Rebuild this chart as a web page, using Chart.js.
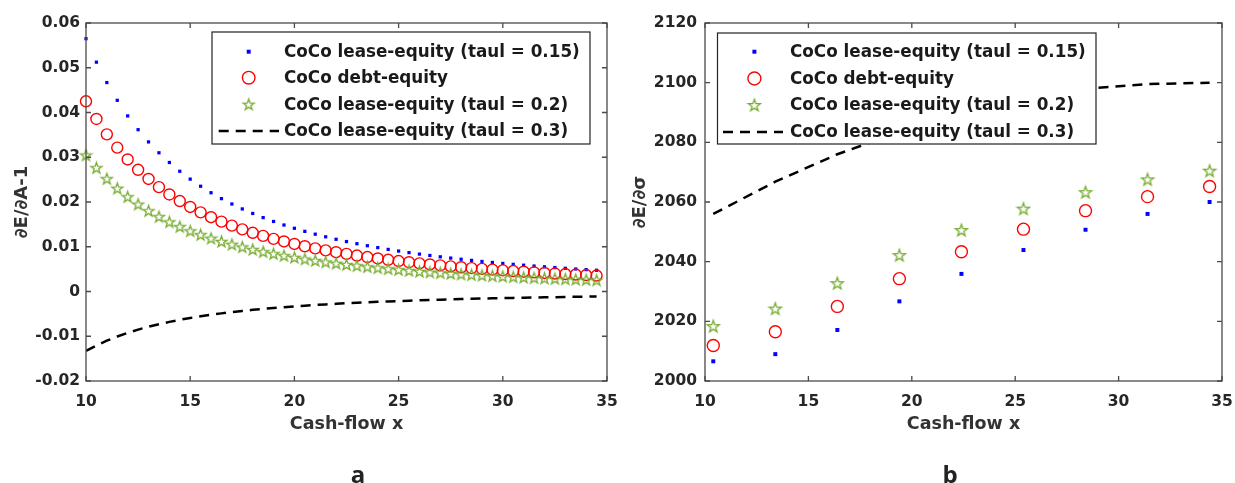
<!DOCTYPE html>
<html>
<head>
<meta charset="utf-8">
<script src="https://cdn.jsdelivr.net/npm/chart.js@4.4.0/dist/chart.umd.min.js"></script>
<style>
  body { margin: 0; background: #fff; width: 1235px; height: 483px; position: relative; overflow: hidden; }
  .panel { position: absolute; top: 0; height: 483px; }
  .tag { position: absolute; font: 700 24px 'Open Sans', sans-serif; color: #222; transform: translate(-50%, -50%); }
</style>
</head>
<body>
<div class="panel" style="left:0;width:617px"><canvas id="chartA" width="617" height="483"></canvas></div>
<div class="panel" style="left:617px;width:618px"><canvas id="chartB" width="618" height="483"></canvas></div>
<div class="tag" style="left:358px;top:473px">a</div>
<div class="tag" style="left:950px;top:473px">b</div>
<script>
// Series names (same in both panels)
const seriesNames = [
  "CoCo lease-equity (taul = 0.15)",
  "CoCo debt-equity",
  "CoCo lease-equity (taul = 0.2)",
  "CoCo lease-equity (taul = 0.3)"
];

// Panel a: dE/dA-1 vs cash-flow
const cashA = [10, 10.5, 11, 11.5, 12, 12.5, 13, 13.5, 14, 14.5, 15, 15.5, 16, 16.5, 17, 17.5, 18, 18.5, 19, 19.5,
  20, 20.5, 21, 21.5, 22, 22.5, 23, 23.5, 24, 24.5, 25, 25.5, 26, 26.5, 27, 27.5, 28, 28.5, 29, 29.5,
  30, 30.5, 31, 31.5, 32, 32.5, 33, 33.5, 34, 34.5];
const leaseA15 = [0.05650, 0.05125, 0.04669, 0.04272, 0.03924, 0.03616, 0.03343, 0.03100, 0.02883, 0.02687,
  0.02511, 0.02352, 0.02207, 0.02075, 0.01955, 0.01845, 0.01744, 0.01651, 0.01565, 0.01486,
  0.01413, 0.01344, 0.01281, 0.01222, 0.01167, 0.01116, 0.01068, 0.01023, 0.00981, 0.00941,
  0.00904, 0.00869, 0.00836, 0.00805, 0.00775, 0.00747, 0.00721, 0.00696, 0.00672, 0.00649,
  0.00628, 0.00607, 0.00588, 0.00569, 0.00552, 0.00535, 0.00519, 0.00503, 0.00489, 0.00475];
const debtA = [0.04250, 0.03855, 0.03512, 0.03214, 0.02951, 0.02720, 0.02515, 0.02332, 0.02168, 0.02021,
  0.01889, 0.01769, 0.01660, 0.01561, 0.01471, 0.01388, 0.01312, 0.01242, 0.01177, 0.01118,
  0.01063, 0.01011, 0.00964, 0.00919, 0.00878, 0.00840, 0.00803, 0.00770, 0.00738, 0.00708,
  0.00680, 0.00654, 0.00629, 0.00605, 0.00583, 0.00562, 0.00542, 0.00523, 0.00505, 0.00488,
  0.00472, 0.00457, 0.00442, 0.00428, 0.00415, 0.00402, 0.00390, 0.00379, 0.00368, 0.00357];
const leaseA20 = [0.03050, 0.02766, 0.02521, 0.02306, 0.02118, 0.01952, 0.01805, 0.01674, 0.01556, 0.01451,
  0.01356, 0.01270, 0.01191, 0.01120, 0.01055, 0.00996, 0.00941, 0.00891, 0.00845, 0.00802,
  0.00763, 0.00726, 0.00692, 0.00660, 0.00630, 0.00602, 0.00577, 0.00552, 0.00530, 0.00508,
  0.00488, 0.00469, 0.00451, 0.00434, 0.00418, 0.00403, 0.00389, 0.00375, 0.00363, 0.00350,
  0.00339, 0.00328, 0.00317, 0.00307, 0.00298, 0.00289, 0.00280, 0.00272, 0.00264, 0.00256];
const leaseA30 = [-0.01330, -0.01206, -0.01099, -0.01006, -0.00924, -0.00851, -0.00787, -0.00730, -0.00679, -0.00633,
  -0.00591, -0.00554, -0.00520, -0.00489, -0.00460, -0.00434, -0.00410, -0.00389, -0.00368, -0.00350,
  -0.00333, -0.00316, -0.00302, -0.00288, -0.00275, -0.00263, -0.00251, -0.00241, -0.00231, -0.00222,
  -0.00213, -0.00205, -0.00197, -0.00189, -0.00182, -0.00176, -0.00170, -0.00164, -0.00158, -0.00153,
  -0.00148, -0.00143, -0.00138, -0.00134, -0.00130, -0.00126, -0.00122, -0.00119, -0.00115, -0.00112];
const xTicksA = [10, 15, 20, 25, 30, 35];
const yTicksA = [-0.02, -0.01, 0, 0.01, 0.02, 0.03, 0.04, 0.05, 0.06];

// Panel b: dE/dsigma vs cash-flow
const cashB = [10.4, 13.4, 16.4, 19.4, 22.4, 25.4, 28.4, 31.4, 34.4];
const leaseB15 = [2006.6, 2009.0, 2017.1, 2026.7, 2035.9, 2043.9, 2050.7, 2056.0, 2060.0];
const debtB = [2011.9, 2016.5, 2025.0, 2034.3, 2043.3, 2050.9, 2057.1, 2061.8, 2065.2];
const leaseB20 = [2018.4, 2024.3, 2032.8, 2042.2, 2050.6, 2057.8, 2063.3, 2067.6, 2070.5];
const leaseB30 = [2056.0, 2066.8, 2076.0, 2083.5, 2089.5, 2094.5, 2098.0, 2099.5, 2100.0];
const xTicksB = [10, 15, 20, 25, 30, 35];
const yTicksB = [2000, 2020, 2040, 2060, 2080, 2100, 2120];

const BLUE = "#0000ff", RED = "#ff0000", GREEN = "#77ac30", INK = "#262626";
const FONT = "'DejaVu Sans', sans-serif";

// MATLAB style pentagram marker
function makeStar(r, color, lw) {
  const c = document.createElement("canvas");
  const s = Math.ceil(2 * r + lw + 2);
  c.width = c.height = s;
  const g = c.getContext("2d");
  g.translate(s / 2, s / 2 + r * 0.1);
  g.beginPath();
  for (let i = 0; i < 10; i++) {
    const rr = i % 2 ? r * 0.4 : r;
    const a = -Math.PI / 2 + i * Math.PI / 5;
    g.lineTo(rr * Math.cos(a), rr * Math.sin(a));
  }
  g.closePath();
  g.strokeStyle = color;
  g.lineWidth = lw;
  g.stroke();
  return c;
}

const pts = (xs, ys) => xs.map((v, i) => ({x: v, y: ys[i]}));

// axis box, inward ticks and boxed legend
const matlabBox = {
  id: "matlabBox",
  afterDatasetsDraw(chart, args, opts) {
    const {ctx, chartArea: a, scales: {x, y}} = chart;
    ctx.save();
    ctx.strokeStyle = "#4a4a4a";
    ctx.lineWidth = 1.3;
    ctx.strokeRect(a.left, a.top, a.right - a.left, a.bottom - a.top);
    ctx.beginPath();
    x.ticks.forEach(t => {
      const px = x.getPixelForValue(t.value);
      ctx.moveTo(px, a.bottom); ctx.lineTo(px, a.bottom - 5);
      ctx.moveTo(px, a.top); ctx.lineTo(px, a.top + 5);
    });
    y.ticks.forEach(t => {
      const py = y.getPixelForValue(t.value);
      ctx.moveTo(a.left, py); ctx.lineTo(a.left + 5, py);
      ctx.moveTo(a.right, py); ctx.lineTo(a.right - 5, py);
    });
    ctx.stroke();

    // legend
    const L = opts.legend;
    ctx.fillStyle = "#fff";
    ctx.fillRect(L.x, L.y, L.w, L.h);
    ctx.strokeStyle = "#222";
    ctx.lineWidth = 1.2;
    ctx.strokeRect(L.x, L.y, L.w, L.h);
    ctx.font = "bold 16.8px " + FONT;
    ctx.textBaseline = "middle";
    chart.data.datasets.forEach((ds, i) => {
      const ry = L.rows[i];
      if (ds.showLine) {
        ctx.save();
        ctx.strokeStyle = ds.borderColor;
        ctx.lineWidth = ds.borderWidth;
        ctx.setLineDash(ds.borderDash);
        ctx.beginPath();
        ctx.moveTo(L.dash[0], ry); ctx.lineTo(L.dash[1], ry);
        ctx.stroke();
        ctx.restore();
      } else {
        ctx.save();
        ctx.fillStyle = ds.backgroundColor;
        ctx.strokeStyle = ds.borderColor;
        ctx.lineWidth = ds.borderWidth;
        Chart.helpers.drawPoint(ctx, {pointStyle: ds.pointStyle, radius: L.radius[i], borderWidth: ds.borderWidth, rotation: 0}, L.mark, ry);
        ctx.restore();
      }
      ctx.fillStyle = "#1a1a1a";
      ctx.fillText(ds.label, L.text, ry + 1);
    });
    ctx.restore();
  }
};

function makeChart(id, cfg) {
  const star = makeStar(cfg.starR, GREEN, 1.3);
  return new Chart(document.getElementById(id), {
    type: "scatter",
    data: {
      datasets: [
        {label: seriesNames[0], data: pts(cfg.xs, cfg.s15), pointStyle: "rect", pointRadius: cfg.dotR,
         backgroundColor: BLUE, borderColor: BLUE, borderWidth: 0, clip: false, order: 4},
        {label: seriesNames[1], data: pts(cfg.xs, cfg.debt), pointStyle: "circle", pointRadius: cfg.circR,
         backgroundColor: "rgba(0,0,0,0)", borderColor: RED, borderWidth: 1.4, clip: false, order: 3},
        {label: seriesNames[2], data: pts(cfg.xs, cfg.s20), pointStyle: star, pointRadius: cfg.starR,
         backgroundColor: "rgba(0,0,0,0)", borderColor: GREEN, borderWidth: 1.3, clip: false, order: 2},
        {label: seriesNames[3], data: pts(cfg.xs, cfg.s30), showLine: true, pointRadius: 0,
         borderColor: "#000", borderWidth: 2.5, borderDash: [10, 7], order: 1}
      ]
    },
    options: {
      responsive: false,
      animation: false,
      events: [],
      layout: {padding: {left: 0, right: cfg.padRight, top: 23, bottom: 44}},
      plugins: {
        legend: {display: false},
        tooltip: {enabled: false},
        matlabBox: {legend: cfg.legend}
      },
      scales: {
        x: {
          type: "linear", min: 10, max: 35,
          grid: {display: false, drawTicks: false},
          border: {display: false},
          afterBuildTicks: s => { s.ticks = cfg.xTicks.map(v => ({value: v})); },
          afterFit: s => { s.height = 58; s.paddingLeft = 0; s.paddingRight = 0; },
          ticks: {color: INK, font: {family: FONT, size: 15.5, weight: "bold"}, padding: 12,
                  maxRotation: 0, callback: v => String(v)},
          title: {display: true, text: "Cash-flow x", color: "#333",
                  font: {family: FONT, size: 17.5, weight: "bold"}, padding: {top: 0, bottom: 4}}
        },
        y: {
          type: "linear", min: cfg.yTicks[0], max: cfg.yTicks[cfg.yTicks.length - 1],
          grid: {display: false, drawTicks: false},
          border: {display: false},
          afterBuildTicks: s => { s.ticks = cfg.yTicks.map(v => ({value: v})); },
          afterFit: s => { s.width = cfg.yWidth; s.paddingTop = 0; s.paddingBottom = 0; },
          ticks: {color: INK, font: {family: FONT, size: 15.5, weight: "bold"}, padding: cfg.tickPad,
                  callback: v => String(v)},
          title: {display: true, text: cfg.yTitle, color: "#333",
                  font: {family: FONT, size: 18, weight: "bold"}, padding: {top: cfg.titlePad, bottom: 0}}
        }
      }
    },
    plugins: [matlabBox]
  });
}

makeChart("chartA", {
  xs: cashA, s15: leaseA15, debt: debtA, s20: leaseA20, s30: leaseA30,
  xTicks: xTicksA, yTicks: yTicksA, yTitle: "∂E/∂A-1",
  yWidth: 86, tickPad: 6, titlePad: 12, padRight: 10,
  dotR: 2.3, circR: 5.5, starR: 5.8,
  legend: {x: 212, y: 32, w: 378, h: 112, text: 284, mark: 248.7, dash: [218.7, 279],
           rows: [51.7, 77.7, 104.3, 131], radius: [2.8, 6.3, 5.5, 0]}
});

makeChart("chartB", {
  xs: cashB, s15: leaseB15, debt: debtB, s20: leaseB20, s30: leaseB30,
  xTicks: xTicksB, yTicks: yTicksB, yTitle: "∂E/∂σ",
  yWidth: 88, tickPad: 8, titlePad: 13, padRight: 13,
  dotR: 2.8, circR: 6, starR: 6.3,
  legend: {x: 100.5, y: 33, w: 378.5, h: 111, text: 173, mark: 137.4, dash: [106, 166],
           rows: [51.7, 78.5, 105, 132], radius: [2.8, 6.5, 6, 0]}
});
</script>
</body>
</html>
